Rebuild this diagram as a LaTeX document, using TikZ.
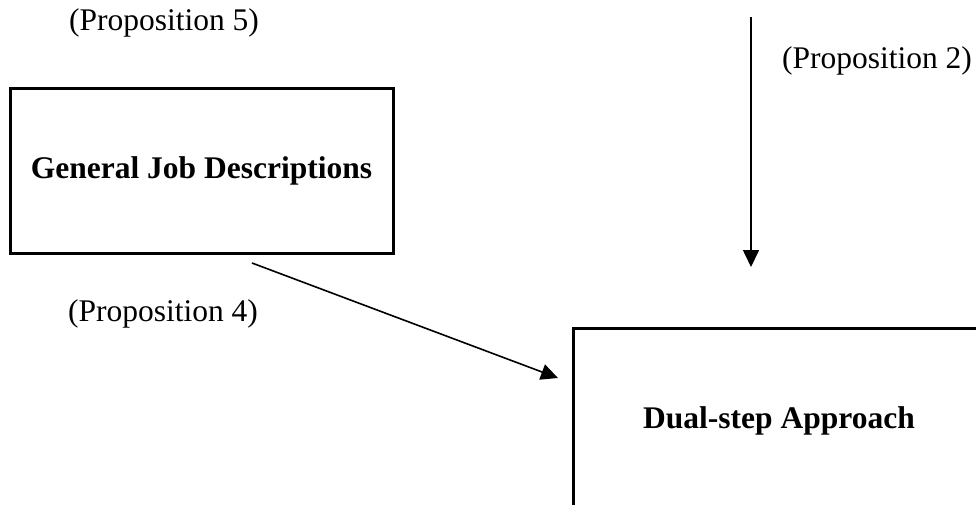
\documentclass[tikz,border=0pt]{standalone}
\usepackage{fontspec}
\setmainfont{Liberation Serif}
\usetikzlibrary{arrows.meta}

\begin{document}
\begin{tikzpicture}[x=1pt, y=-1pt,
  every node/.style={font=\fontsize{31.5}{38}\selectfont, inner sep=0pt},
  conceptbox/.style={draw, line width=3pt, font=\fontsize{31.5}{38}\selectfont\bfseries},
  proplabel/.style={anchor=base},
  link/.style={line width=1.6pt, -{Triangle[length=17pt, width=16pt]}}]

  \useasboundingbox (0,0) rectangle (976,504);
  \clip (0,0) rectangle (976,504);

  % the two concept boxes
  \node[conceptbox, minimum width=383pt, minimum height=165pt] (gjd) at (201.5,170.5)
    {General Job Descriptions};
  \node[conceptbox, minimum width=412pt, minimum height=186pt] (dsa) at (779,421)
    {Dual-step Approach};

  % proposition labels
  \node[proplabel] (p5) at (164,30) {(Proposition 5)};
  \node[proplabel] (p2) at (877,68) {(Proposition 2)};
  \node[proplabel] (p4) at (163,321) {(Proposition 4)};

  % arrow ends
  \coordinate (topin) at (751,17);
  \coordinate (topout) at (751,267);
  \coordinate (gjdout) at (252,263);
  \coordinate (dsain) at (558,378);

  \draw[link] (topin) -- (topout);
  \draw[link] (gjdout) -- (dsain);
\end{tikzpicture}
\end{document}
